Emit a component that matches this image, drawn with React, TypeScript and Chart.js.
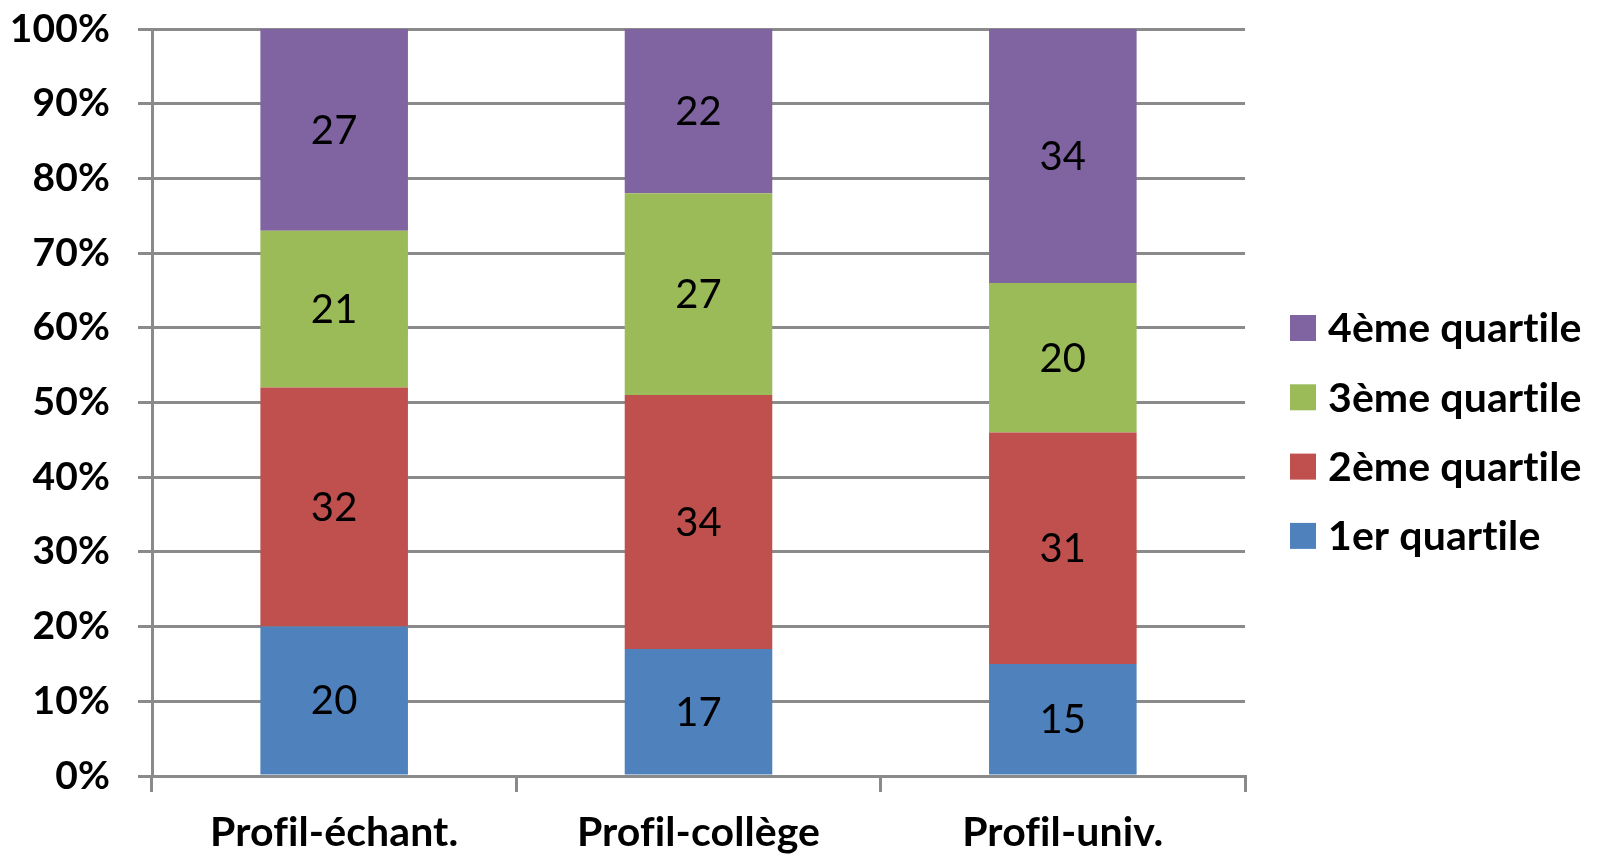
import React, { useEffect, useRef } from "react";
import { Chart, registerables } from "chart.js";

Chart.register(...registerables);

const categories = ["Profil-échant.", "Profil-collège", "Profil-univ."];
const seriesNames = ["1er quartile", "2ème quartile", "3ème quartile", "4ème quartile"];
const q1 = [20, 17, 15];
const q2 = [32, 34, 31];
const q3 = [21, 27, 20];
const q4 = [27, 22, 34];
const colors = ["#4F81BD", "#C0504D", "#9BBB59", "#8064A2"];
const yTicks = [0, 10, 20, 30, 40, 50, 60, 70, 80, 90, 100];

const FONT = "Lato, 'Noto Sans', sans-serif";
const GRID = "#8a8a8a";

const noLigaturePlugin = {
  id: "noLigatures",
  beforeDraw(chart: any) {
    try {
      (chart.ctx as any).letterSpacing = "0.1px";
    } catch (e) {}
  },
};

const labelPlugin = {
  id: "barLabels",
  afterDatasetsDraw(chart: any) {
    const ctx = chart.ctx;
    ctx.save();
    ctx.font = `40px ${FONT}`;
    ctx.fillStyle = "#000";
    ctx.textAlign = "center";
    ctx.textBaseline = "middle";
    chart.data.datasets.forEach((ds: any, i: number) => {
      const meta = chart.getDatasetMeta(i);
      meta.data.forEach((bar: any, j: number) => {
        const cy = (bar.y + bar.base) / 2;
        ctx.fillText(String(ds.data[j]), bar.x, cy + 1);
      });
    });
    ctx.restore();
  },
};

const legendPlugin = {
  id: "customLegend",
  afterDraw(chart: any) {
    const ctx = chart.ctx;
    ctx.save();
    ctx.font = `bold 41px ${FONT}`;
    ctx.fillStyle = "#000";
    ctx.textAlign = "left";
    ctx.textBaseline = "middle";
    const n = chart.data.datasets.length;
    const x0 = 1290;
    const yTop = 328;
    const step = 69.3;
    for (let k = 0; k < n; k++) {
      const i = n - 1 - k;
      const ds = chart.data.datasets[i];
      const cy = yTop + k * step;
      ctx.fillStyle = ds.backgroundColor;
      ctx.fillRect(x0, cy - 13, 26, 26);
      ctx.fillStyle = "#000";
      ctx.fillText(ds.label, x0 + 38, cy + 1);
    }
    ctx.restore();
  },
};

export default function App() {
  const ref = useRef<HTMLCanvasElement>(null);
  useEffect(() => {
    document.body.style.margin = "0";
    const values = [q1, q2, q3, q4];
    const chart = new Chart(ref.current!, {
      type: "bar",
      data: {
        labels: categories,
        datasets: seriesNames.map((name, i) => ({
          label: name,
          data: values[i],
          backgroundColor: colors[i],
          borderWidth: 0,
          barPercentage: 0.405,
          categoryPercentage: 1,
        })),
      },
      options: {
        animation: false,
        responsive: false,
        maintainAspectRatio: false,
        layout: { padding: { top: 29, right: 353, left: 0, bottom: 0 } },
        plugins: { legend: { display: false }, tooltip: { enabled: false } },
        scales: {
          x: {
            stacked: true,
            offset: true,
            grid: {
              offset: true,
              drawOnChartArea: false,
              drawTicks: true,
              tickLength: 16,
              color: GRID,
              lineWidth: 3,
            },
            border: { display: true, color: GRID, width: 3 },
            ticks: {
              color: "#000",
              font: { family: FONT, size: 41, weight: "bold" },
              padding: 16,
            },
            afterFit(scale: any) {
              scale.height = 82;
              scale.paddingLeft = 0;
              scale.paddingRight = 0;
            },
          },
          y: {
            stacked: true,
            min: 0,
            max: 100,
            afterBuildTicks(scale: any) {
              scale.ticks = yTicks.map((v) => ({ value: v }));
            },
            grid: {
              color: GRID,
              lineWidth: 3,
              drawTicks: true,
              tickLength: 14,
            },
            border: { display: true, color: GRID, width: 3 },
            ticks: {
              color: "#000",
              font: { family: FONT, size: 39, weight: "bold" },
              padding: 28,
              callback: (v: any) => v + "%",
            },
            afterFit(scale: any) {
              scale.width = 152;
              scale.paddingTop = 0;
              scale.paddingBottom = 0;
            },
          },
        },
      },
      plugins: [noLigaturePlugin, labelPlugin, legendPlugin],
    });
    return () => chart.destroy();
  }, []);
  return (
    <div style={{ width: 1598, height: 858 }}>
      <canvas ref={ref} width={1598} height={858} style={{ display: "block" }} />
    </div>
  );
}
